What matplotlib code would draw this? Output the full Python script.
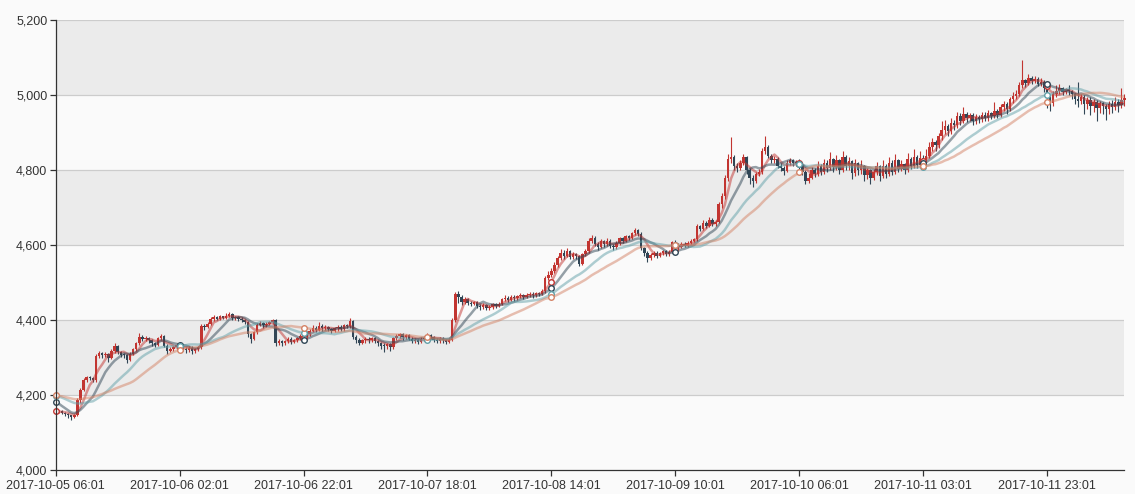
import matplotlib
matplotlib.use("Agg")
import matplotlib.pyplot as plt
import numpy as np
import pandas as pd
from matplotlib.ticker import FuncFormatter, MultipleLocator

# ---- data (30-minute candles) ----
# closes before the first visible candle, only used to seed the moving averages
warmup_closes = [4195, 4198, 4202, 4205, 4200, 4196, 4199, 4203, 4206, 4201,
                 4208, 4212, 4218, 4222, 4216, 4211, 4214, 4219, 4215, 4210,
                 4212, 4215, 4208, 4206, 4196, 4165, 4158, 4154, 4156]
first_open = 4158

closes = [
    4155, 4157, 4153, 4150, 4146, 4141, 4147, 4186, 4214, 4240,
    4248, 4245, 4240, 4305, 4312, 4306, 4310, 4300, 4318, 4330,
    4314, 4308, 4306, 4294, 4310, 4322, 4338, 4356, 4350, 4352,
    4346, 4338, 4334, 4352, 4358, 4332, 4318, 4322, 4328, 4334,
    4330, 4324, 4320, 4326, 4318, 4322, 4328, 4385, 4382, 4390,
    4402, 4408, 4404, 4410, 4406, 4412, 4416, 4405, 4408, 4404,
    4400, 4396, 4362, 4350, 4368, 4388, 4392, 4386, 4390, 4394,
    4400, 4340, 4345, 4338, 4344, 4350, 4342, 4346, 4352, 4358,
    4364, 4362, 4372, 4380, 4374, 4385, 4378, 4382, 4376, 4372,
    4378, 4382, 4376, 4386, 4384, 4398, 4356, 4348, 4340, 4346,
    4350, 4346, 4352, 4344, 4338, 4332, 4330, 4336, 4328, 4352,
    4358, 4362, 4354, 4360, 4350, 4344, 4348, 4342, 4350, 4352,
    4360, 4356, 4348, 4344, 4350, 4346, 4342, 4348, 4400, 4470,
    4462, 4448, 4456, 4446, 4444, 4448, 4438, 4434, 4440, 4432,
    4436, 4442, 4438, 4444, 4456, 4460, 4454, 4462, 4458, 4464,
    4466, 4462, 4468, 4470, 4466, 4472, 4470, 4478, 4512, 4520,
    4532, 4548, 4566, 4580, 4572, 4584, 4568, 4576, 4570, 4550,
    4576, 4584, 4612, 4620, 4604, 4596, 4610, 4602, 4612, 4598,
    4594, 4606, 4618, 4612, 4624, 4620, 4632, 4640, 4630, 4592,
    4580, 4566, 4574, 4580, 4572, 4578, 4584, 4576, 4582, 4608,
    4600, 4596, 4604, 4598, 4606, 4612, 4616, 4650, 4644, 4660,
    4652, 4668, 4656, 4662, 4710, 4730, 4780, 4830, 4836, 4812,
    4806, 4820, 4834, 4800, 4778, 4772, 4790, 4796, 4850, 4862,
    4838, 4826, 4830, 4812, 4806, 4798, 4820, 4826, 4818, 4822,
    4814, 4796, 4772, 4780, 4800, 4790, 4812, 4796, 4820, 4806,
    4830, 4808, 4826, 4800, 4834, 4810, 4824, 4792, 4818, 4800,
    4810, 4786, 4800, 4780, 4796, 4810, 4784, 4812, 4790, 4820,
    4796, 4826, 4804, 4816, 4800, 4830, 4812, 4836, 4814, 4832,
    4826, 4838, 4862, 4874, 4866, 4892, 4908, 4918, 4904, 4926,
    4920, 4944, 4932, 4950, 4938, 4946, 4930, 4942, 4936, 4948,
    4940, 4952, 4944, 4958, 4948, 4968, 4976, 4964, 4990, 4998,
    5004, 5028, 5040, 5032, 5046, 5038, 5044, 5030, 5036, 5018,
    4992, 4978, 5004, 5012, 5018, 5008, 5016, 5010, 5002, 4990,
    4984, 4996, 4976, 4988, 4970, 4982, 4966, 4978, 4972, 4962,
    4976, 4968, 4982, 4974, 4988, 4992,
]

highs = [
    4162, 4160, 4160, 4155, 4152, 4148, 4150, 4192, 4220, 4246,
    4252, 4250, 4248, 4310, 4318, 4316, 4315, 4312, 4322, 4340,
    4334, 4318, 4312, 4310, 4314, 4326, 4342, 4366, 4360, 4358,
    4356, 4350, 4342, 4356, 4364, 4360, 4336, 4328, 4332, 4340,
    4338, 4334, 4328, 4330, 4330, 4326, 4332, 4390, 4390, 4396,
    4408, 4414, 4410, 4414, 4412, 4418, 4422, 4420, 4412, 4410,
    4408, 4404, 4398, 4366, 4372, 4392, 4398, 4396, 4394, 4398,
    4404, 4402, 4350, 4348, 4348, 4354, 4354, 4350, 4356, 4364,
    4368, 4370, 4376, 4386, 4384, 4395, 4390, 4386, 4384, 4380,
    4382, 4386, 4386, 4390, 4390, 4405, 4400, 4360, 4352, 4350,
    4354, 4354, 4356, 4356, 4348, 4342, 4338, 4340, 4338, 4356,
    4364, 4366, 4366, 4364, 4362, 4354, 4352, 4350, 4354, 4358,
    4366, 4364, 4358, 4352, 4354, 4354, 4350, 4352, 4406, 4476,
    4478, 4468, 4462, 4460, 4452, 4452, 4452, 4442, 4446, 4444,
    4440, 4446, 4446, 4448, 4460, 4466, 4464, 4468, 4466, 4468,
    4472, 4470, 4472, 4476, 4474, 4476, 4476, 4482, 4518, 4530,
    4538, 4556, 4572, 4590, 4586, 4592, 4588, 4582, 4580, 4574,
    4580, 4590, 4618, 4628, 4624, 4608, 4616, 4614, 4618, 4616,
    4604, 4610, 4622, 4622, 4628, 4628, 4636, 4646, 4644, 4634,
    4596, 4584, 4578, 4584, 4584, 4582, 4588, 4588, 4586, 4612,
    4614, 4606, 4608, 4608, 4610, 4616, 4620, 4656, 4654, 4666,
    4664, 4674, 4672, 4668, 4716, 4738, 4786, 4842, 4888, 4840,
    4818, 4826, 4842, 4838, 4806, 4786, 4796, 4802, 4858, 4890,
    4866, 4844, 4838, 4834, 4818, 4812, 4826, 4832, 4830, 4828,
    4830, 4818, 4800, 4792, 4808, 4806, 4824, 4816, 4830, 4828,
    4848, 4832, 4840, 4830, 4850, 4840, 4836, 4828, 4830, 4822,
    4826, 4814, 4806, 4804, 4802, 4822, 4814, 4828, 4816, 4834,
    4826, 4842, 4830, 4826, 4820, 4846, 4834, 4856, 4840, 4850,
    4840, 4856, 4876, 4886, 4880, 4900, 4930, 4934, 4922, 4938,
    4934, 4956, 4952, 4968, 4956, 4952, 4952, 4950, 4946, 4956,
    4956, 4960, 4956, 4982, 4962, 4976, 4984, 4982, 4996, 5008,
    5014, 5034, 5094, 5044, 5056, 5050, 5052, 5048, 5046, 5040,
    5024, 4998, 5010, 5028, 5030, 5022, 5020, 5026, 5014, 5006,
    5034, 5004, 5000, 4994, 4996, 4990, 4988, 4984, 4982, 4976,
    4984, 4986, 4996, 4990, 5020, 5004,
]

lows = [
    4150, 4151, 4149, 4144, 4140, 4134, 4138, 4144, 4180, 4210,
    4236, 4240, 4234, 4236, 4298, 4300, 4302, 4288, 4296, 4312,
    4310, 4302, 4300, 4286, 4290, 4306, 4318, 4334, 4344, 4344,
    4340, 4332, 4328, 4330, 4348, 4328, 4310, 4314, 4318, 4324,
    4324, 4318, 4312, 4316, 4310, 4312, 4318, 4324, 4374, 4378,
    4386, 4398, 4400, 4400, 4402, 4402, 4408, 4400, 4400, 4398,
    4394, 4390, 4356, 4338, 4346, 4364, 4384, 4380, 4382, 4386,
    4390, 4330, 4334, 4330, 4334, 4340, 4336, 4338, 4342, 4348,
    4352, 4356, 4358, 4368, 4368, 4370, 4372, 4374, 4370, 4366,
    4368, 4372, 4370, 4372, 4378, 4380, 4350, 4340, 4334, 4336,
    4340, 4340, 4342, 4340, 4332, 4324, 4316, 4324, 4318, 4324,
    4346, 4352, 4348, 4350, 4346, 4338, 4340, 4336, 4338, 4344,
    4348, 4350, 4342, 4338, 4340, 4340, 4336, 4338, 4344, 4394,
    4446, 4440, 4442, 4440, 4438, 4440, 4432, 4428, 4430, 4426,
    4426, 4430, 4432, 4434, 4440, 4452, 4448, 4450, 4452, 4454,
    4458, 4456, 4458, 4462, 4460, 4462, 4464, 4466, 4472, 4506,
    4514, 4526, 4542, 4560, 4564, 4568, 4562, 4564, 4564, 4544,
    4546, 4570, 4578, 4606, 4598, 4588, 4592, 4596, 4598, 4592,
    4588, 4590, 4600, 4606, 4608, 4614, 4616, 4626, 4624, 4586,
    4572, 4556, 4560, 4568, 4566, 4568, 4574, 4570, 4570, 4578,
    4594, 4590, 4592, 4594, 4594, 4602, 4608, 4612, 4638, 4640,
    4646, 4648, 4650, 4652, 4658, 4700, 4724, 4772, 4820, 4800,
    4796, 4800, 4814, 4790, 4764, 4756, 4766, 4784, 4790, 4844,
    4832, 4818, 4820, 4806, 4798, 4788, 4794, 4814, 4810, 4812,
    4800, 4786, 4762, 4766, 4776, 4782, 4784, 4786, 4790, 4796,
    4800, 4796, 4800, 4790, 4796, 4800, 4800, 4776, 4784, 4788,
    4790, 4772, 4776, 4764, 4774, 4788, 4770, 4780, 4780, 4784,
    4786, 4790, 4796, 4798, 4790, 4796, 4802, 4806, 4806, 4810,
    4816, 4818, 4832, 4852, 4850, 4858, 4880, 4896, 4890, 4896,
    4906, 4912, 4920, 4926, 4928, 4930, 4920, 4922, 4926, 4928,
    4930, 4932, 4936, 4938, 4938, 4942, 4958, 4950, 4958, 4980,
    4990, 4998, 5020, 5022, 5026, 5030, 5032, 5024, 5024, 5008,
    4966, 4958, 4970, 4996, 5004, 5000, 5002, 5000, 4990, 4976,
    4968, 4976, 4950, 4962, 4946, 4956, 4930, 4952, 4950, 4934,
    4950, 4952, 4960, 4956, 4966, 4972,
]

ma_windows = [5, 10, 20, 30]
ma_names = ["MA5", "MA10", "MA20", "MA30"]

# timestamps: half-hourly, one hour missing on 10-10
times = pd.date_range("2017-10-05 06:01", periods=len(closes) + 2, freq="30min")
times = times.delete([262, 263])
dates = times.strftime("%Y-%m-%d %H:%M").tolist()

# ---- style ----
UP = "#c23531"
DOWN = "#314656"
MA_COLORS = ["#c23531", "#2f4554", "#61a0a8", "#d48265"]
BG = "#fafafa"
BAND = "#ebebeb"
GRID = "#cccccc"
TXT = "#333333"

plt.rcParams["font.family"] = ["Liberation Sans", "DejaVu Sans"]

c = np.array(closes, dtype=float)
o = np.array([first_open] + closes[:-1], dtype=float)
h = np.maximum(np.array(highs, dtype=float), np.maximum(o, c))
l = np.minimum(np.array(lows, dtype=float), np.minimum(o, c))
n = len(c)
x = np.arange(n)

full = pd.Series(warmup_closes + closes, dtype=float)
mas = [full.rolling(w).mean().to_numpy()[len(warmup_closes):] for w in ma_windows]

fig = plt.figure(figsize=(11.35, 4.94), dpi=100)
fig.patch.set_facecolor(BG)
ax = fig.add_axes([55.7 / 1135, 24 / 494, (1124.5 - 55.7) / 1135, 450 / 494])
ax.set_facecolor(BG)

# split areas
for k, y0 in enumerate(range(4000, 5200, 200)):
    ax.axhspan(y0, y0 + 200, color=BG if k % 2 == 0 else BAND, zorder=0, lw=0)
for yy in range(4200, 5201, 200):
    ax.axhline(yy, color=GRID, lw=0.9, zorder=0.5)

# candles
up = c >= o
cols = np.where(up, UP, DOWN)
ax.vlines(x, l, h, colors=cols, lw=0.8, zorder=2, clip_on=False)
body = np.maximum(np.abs(c - o), 2.5)
ax.bar(x, body, bottom=np.minimum(o, c), width=0.8, color=cols, lw=0,
       zorder=3, clip_on=False)

# moving averages
for ma, col, name in zip(mas, MA_COLORS, ma_names):
    ax.plot(x, ma, color=col, lw=1.8, alpha=0.5, zorder=4, label=name)
    ax.plot(x[::40], ma[::40], "o", ms=4, mfc="white", mec=col, mew=1,
            zorder=5, clip_on=False)

ax.set_xlim(0, n - 1)
ax.set_ylim(4000, 5200)
ax.yaxis.set_major_locator(MultipleLocator(200))
ax.yaxis.set_major_formatter(FuncFormatter(lambda v, p: f"{v:,.0f}"))
ax.set_xticks(x[::40])
ax.set_xticklabels([dates[i] for i in x[::40]])

for s in ["top", "right"]:
    ax.spines[s].set_visible(False)
for s in ["left", "bottom"]:
    ax.spines[s].set_color(TXT)
    ax.spines[s].set_linewidth(0.9)
    ax.spines[s].set_zorder(6)
ax.tick_params(axis="both", colors=TXT, labelsize=9, length=4, width=0.9)
ax.tick_params(axis="y", pad=2)
ax.tick_params(axis="x", pad=3)

fig.savefig("out.png", dpi=100, facecolor=BG)
